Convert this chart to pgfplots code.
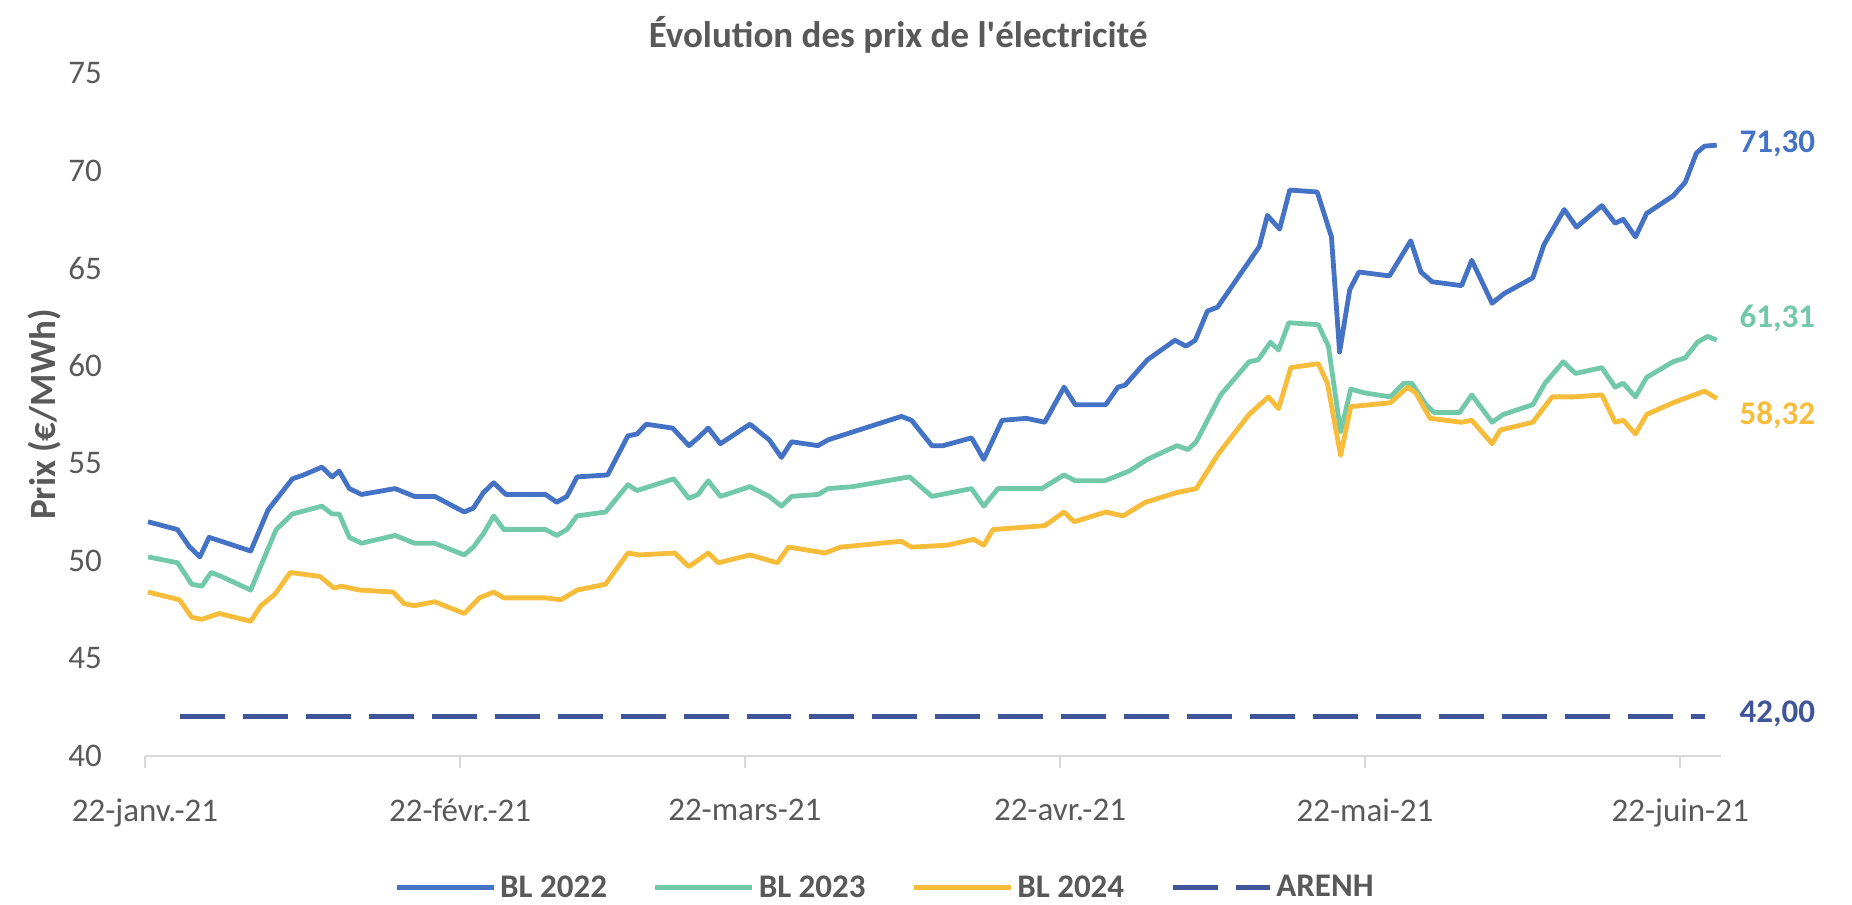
\documentclass[border=0pt]{standalone}
\usepackage{pgfplots}
\pgfplotsset{compat=1.18}
\usepackage{fontspec}
\setmainfont{Carlito}[Ligatures=TeXOff]

\definecolor{bl22}{HTML}{4472C4}
\definecolor{bl23}{HTML}{72C9A9}
\definecolor{bl24}{HTML}{F6BC3A}
\definecolor{arenh}{HTML}{3F5597}
\definecolor{txt}{HTML}{595959}
\definecolor{axl}{HTML}{D9D9D9}

% x = jours depuis le 22 janv. 2021
\pgfplotstableread{
x y
0.3 52.0
3.2 51.6
4.4 50.7
5.4 50.2
6.3 51.2
7.5 51.0
10.4 50.5
12.1 52.6
14.5 54.2
15.6 54.4
17.4 54.8
18.4 54.3
19.1 54.6
20.1 53.7
21.3 53.4
24.6 53.7
26.5 53.3
28.5 53.3
31.4 52.5
32.3 52.7
33.3 53.5
34.3 54.0
35.5 53.4
39.4 53.4
40.5 53.0
41.5 53.3
42.5 54.3
45.5 54.4
47.5 56.4
48.4 56.5
49.3 57.0
51.9 56.8
53.5 55.9
54.4 56.3
55.4 56.8
56.6 56.0
59.5 57.0
61.4 56.2
62.6 55.3
63.6 56.1
66.2 55.9
67.2 56.2
69.6 56.6
74.4 57.4
75.4 57.2
77.4 55.9
78.5 55.9
81.3 56.3
82.5 55.2
84.3 57.2
86.7 57.3
88.5 57.1
90.4 58.9
91.5 58.0
94.5 58.0
95.7 58.9
96.4 59.0
98.6 60.3
101.3 61.3
102.4 61.0
103.3 61.3
104.5 62.8
105.5 63.0
109.6 66.1
110.4 67.7
111.6 67.0
112.6 69.0
115.3 68.9
116.7 66.6
117.5 60.7
118.5 63.9
119.4 64.8
122.4 64.6
124.5 66.4
125.5 64.8
126.6 64.3
129.5 64.1
130.5 65.4
132.5 63.2
133.7 63.7
136.5 64.5
137.6 66.2
139.6 68.0
140.8 67.1
143.3 68.2
144.6 67.3
145.4 67.5
146.6 66.6
147.7 67.8
150.3 68.7
151.5 69.4
152.6 70.9
153.4 71.25
154.6 71.30
}\blA

\pgfplotstableread{
x y
0.3 50.2
3.2 49.9
4.6 48.8
5.6 48.7
6.5 49.4
7.5 49.2
10.4 48.5
12.9 51.6
14.5 52.4
17.4 52.8
18.4 52.4
19.1 52.4
20.1 51.2
21.3 50.9
24.6 51.3
26.5 50.9
28.5 50.9
31.4 50.3
32.3 50.7
33.3 51.4
34.3 52.3
35.3 51.6
39.4 51.6
40.5 51.3
41.5 51.6
42.5 52.3
45.3 52.5
47.5 53.9
48.4 53.6
52.0 54.2
53.5 53.2
54.4 53.4
55.4 54.1
56.6 53.3
59.5 53.8
61.4 53.3
62.6 52.8
63.6 53.3
66.2 53.4
67.2 53.7
69.6 53.8
75.2 54.3
77.4 53.3
81.3 53.7
82.5 52.8
83.9 53.7
88.2 53.7
90.4 54.4
91.5 54.1
94.4 54.1
96.8 54.6
98.6 55.2
101.5 55.9
102.6 55.7
103.4 56.1
104.6 57.3
105.8 58.5
108.6 60.2
109.5 60.3
110.7 61.2
111.5 60.8
112.5 62.2
115.4 62.1
116.4 61.0
117.6 56.6
118.6 58.8
120.0 58.6
122.5 58.4
123.8 59.1
124.6 59.1
126.0 58.0
126.8 57.6
129.3 57.6
130.5 58.5
132.5 57.1
133.6 57.5
136.5 58.0
137.7 59.1
139.5 60.2
140.7 59.6
143.3 59.9
144.6 58.9
145.4 59.1
146.6 58.4
147.7 59.4
150.3 60.2
151.5 60.4
152.7 61.2
153.7 61.5
154.6 61.31
}\blB

\pgfplotstableread{
x y
0.3 48.4
3.4 48.0
4.6 47.1
5.6 47.0
7.3 47.3
10.4 46.9
11.4 47.7
12.8 48.3
14.3 49.4
17.2 49.2
18.6 48.6
19.3 48.7
21.1 48.5
24.4 48.4
25.5 47.8
26.5 47.7
28.5 47.9
31.4 47.3
32.9 48.1
34.3 48.4
35.3 48.1
39.4 48.1
40.9 48.0
42.5 48.5
45.3 48.8
47.5 50.4
48.6 50.3
52.1 50.4
53.5 49.7
55.4 50.4
56.4 49.9
59.5 50.3
62.2 49.9
63.3 50.7
66.9 50.4
68.4 50.7
74.4 51.0
75.4 50.7
78.9 50.8
81.5 51.1
82.5 50.8
83.4 51.6
88.5 51.8
90.4 52.5
91.4 52.0
94.5 52.5
96.2 52.3
98.4 53.0
101.5 53.5
103.4 53.7
105.6 55.5
108.6 57.5
110.5 58.4
111.5 57.8
112.7 59.9
115.4 60.1
116.3 59.1
117.6 55.4
118.6 57.9
122.5 58.1
124.2 58.9
125.0 58.6
126.4 57.3
129.5 57.1
130.5 57.2
132.5 56.0
133.3 56.7
136.5 57.1
138.4 58.4
140.5 58.4
143.3 58.5
144.6 57.1
145.4 57.2
146.6 56.5
147.7 57.5
150.3 58.1
153.4 58.7
154.6 58.32
}\blC

\begin{document}
\begin{tikzpicture}
\begin{axis}[
    width=788pt, height=341.5pt, scale only axis,
    xmin=0, xmax=155, ymin=40, ymax=75,
    axis x line*=bottom, axis y line*=left,
    x axis line style={draw=axl, line width=1pt},
    y axis line style={draw=none},
    xtick={0,31,59,90,120,151},
    xticklabels={22-janv.-21,22-févr.-21,22-mars-21,22-avr.-21,22-mai-21,22-juin-21},
    ytick={40,45,...,75},
    tick align=outside,
    x tick style={draw=axl, line width=1pt},
    major tick length=6pt,
    y tick style={draw=none},
    /pgf/number format/assume math mode=true,
    ticklabel style={font=\fontsize{16.5}{20}\selectfont, text=txt},
    xticklabel style={yshift=-12pt},
    yticklabel style={xshift=-12pt},
    ylabel={Prix (€/MWh)},
    ylabel style={at={(rel axis cs:-0.0635,0.5)}, anchor=center,
        font=\fontsize{18.5}{22}\selectfont\bfseries, text=txt},
    clip=false,
    legend columns=4,
    legend style={at={(rel axis cs:0.158,-0.193)}, anchor=west, draw=none,
        inner sep=0pt, font=\fontsize{16.5}{20}\selectfont\bfseries, text=txt,
        /tikz/every even column/.append style={column sep=21pt}},
    legend image code/.code={\draw[#1] (0pt,0pt) -- (48.5pt,0pt);},
]
\path (axis cs:-14.26,32.42) rectangle (axis cs:167.9,78.74);
\addplot[bl22, line width=2.4pt, line join=round] table {\blA};
\addlegendentry{BL 2022}
\addplot[bl23, line width=2.4pt, line join=round] table {\blB};
\addlegendentry{BL 2023}
\addplot[bl24, line width=2.4pt, line join=round] table {\blC};
\addlegendentry{BL 2024}
\addplot[arenh, line width=2.6pt, dash pattern=on 22.5pt off 9pt] coordinates {(3.4,42) (153.4,42)};
\addlegendentry{ARENH}
\node[anchor=center, font=\fontsize{18.5}{22}\selectfont\bfseries, text=txt]
    at (rel axis cs:0.478,1.0556) {Évolution des prix de l'électricité};
\node[anchor=west, font=\fontsize{16.5}{20}\selectfont\bfseries, text=bl22, inner sep=0pt] at (axis cs:156.8,71.38) {71,30};
\node[anchor=west, font=\fontsize{16.5}{20}\selectfont\bfseries, text=bl23, inner sep=0pt] at (axis cs:156.8,62.41) {61,31};
\node[anchor=west, font=\fontsize{16.5}{20}\selectfont\bfseries, text=bl24, inner sep=0pt] at (axis cs:156.8,57.44) {58,32};
\node[anchor=west, font=\fontsize{16.5}{20}\selectfont\bfseries, text=arenh, inner sep=0pt] at (axis cs:156.8,42.15) {42,00};
\end{axis}
\end{tikzpicture}
\end{document}
